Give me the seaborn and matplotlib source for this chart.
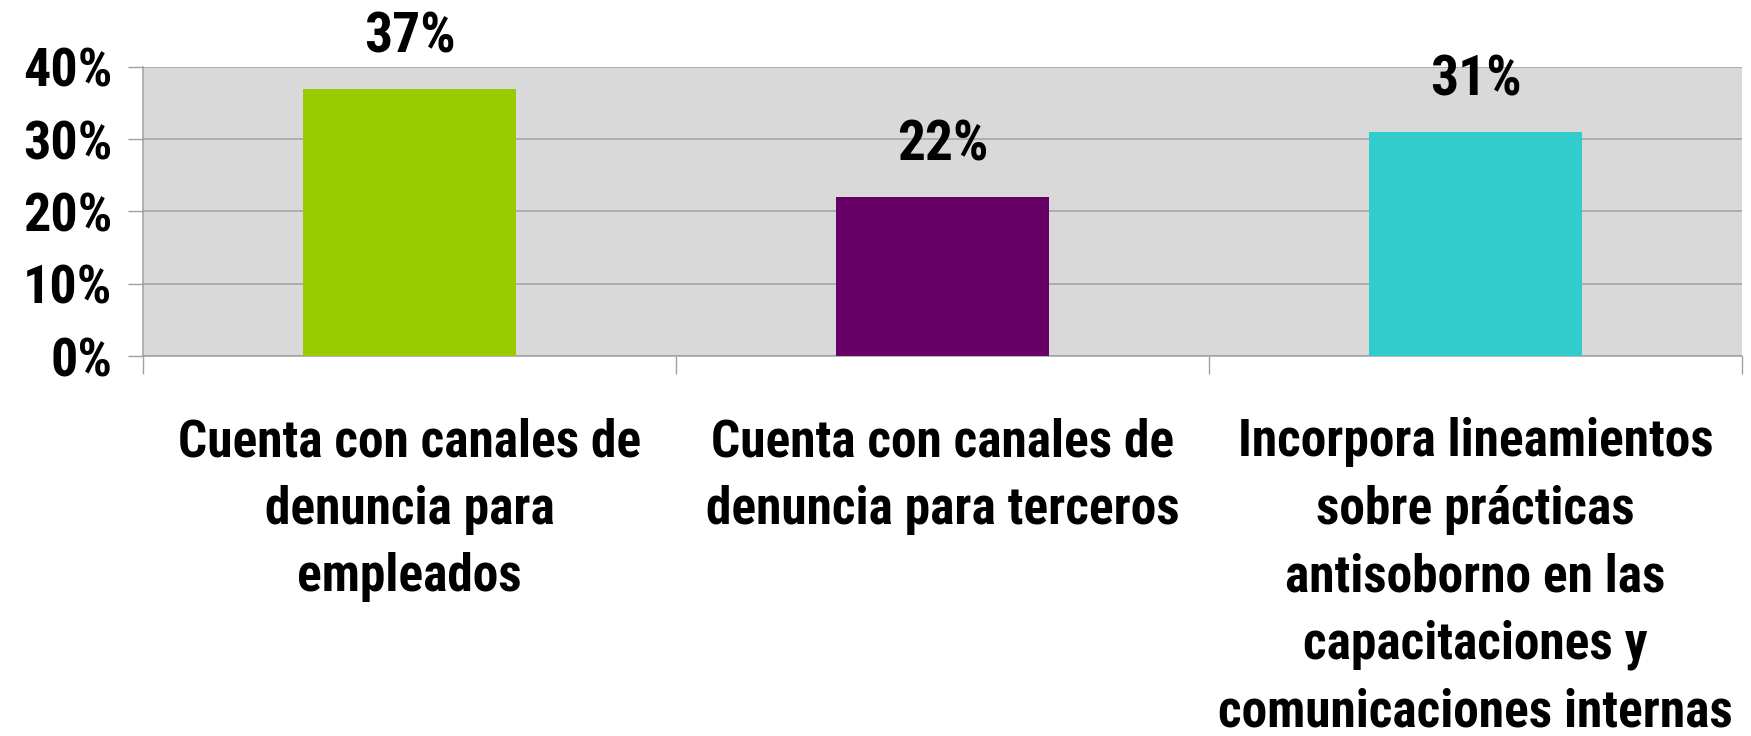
import seaborn as sns
import matplotlib.pyplot as plt
from matplotlib.ticker import FixedLocator

# Data
categories = [
    "Cuenta con canales de\ndenuncia para\nempleados",
    "Cuenta con canales de\ndenuncia para terceros",
    "Incorpora lineamientos\nsobre prácticas\nantisoborno en las\ncapacitaciones y\ncomunicaciones internas",
]
values = [37, 22, 31]
bar_colors = ["#99CC00", "#660066", "#33CCCC"]
y_ticks = [0, 10, 20, 30, 40]

sns.set_theme(style="white")
plt.rcParams['font.family'] = ['Roboto Condensed', 'DejaVu Sans']
plt.rcParams['font.weight'] = 'bold'
plt.rcParams['text.color'] = 'black'
plt.rcParams['xtick.color'] = 'black'
plt.rcParams['ytick.color'] = 'black'

fig = plt.figure(figsize=(17.51, 7.36), dpi=100)
ax = fig.add_axes([0.0817, 0.5163, 0.9132, 0.3927])
ax.set_facecolor("#D9D9D9")

sns.barplot(x=categories, y=values, hue=categories, palette=bar_colors,
            width=0.4, saturation=1, legend=False, ax=ax, zorder=3, linewidth=0)

ax.set_ylim(0, 40)
ax.set_xlim(-0.5, 2.5)
ax.set_yticks(y_ticks)
ax.set_yticklabels([f"{t}%" for t in y_ticks], fontsize=39, fontweight='bold')
ax.yaxis.grid(True, color="#A0A0A0", linewidth=1.1, zorder=1)
ax.set_axisbelow(True)

# category labels centred under bars, boundary ticks in between
ax.tick_params(axis='x', which='major', length=0, pad=44, labelsize=37, labelcolor='black')
for lbl in ax.get_xticklabels():
    lbl.set_fontweight('bold')
    lbl.set_linespacing(1.45)
ax.xaxis.set_minor_locator(FixedLocator([-0.5, 0.5, 1.5, 2.5]))
ax.tick_params(axis='x', which='minor', bottom=True, length=13, width=1, color="#A0A0A0")
ax.tick_params(axis='y', which='major', left=True, length=11, width=1, color="#A0A0A0",
               pad=11, labelcolor='black')

for side in ['top', 'right']:
    ax.spines[side].set_visible(False)
for side in ['left', 'bottom']:
    ax.spines[side].set_color("#A0A0A0")
    ax.spines[side].set_linewidth(1.1)

# value labels above bars
for i, v in enumerate(values):
    ax.annotate(f"{v}%", xy=(i, v), xytext=(0, 26), textcoords='offset points',
                ha='center', va='baseline', fontsize=40, fontweight='bold',
                color='black', annotation_clip=False)

ax.set_xlabel("")
ax.set_ylabel("")
plt.savefig("out.png", dpi=100)
